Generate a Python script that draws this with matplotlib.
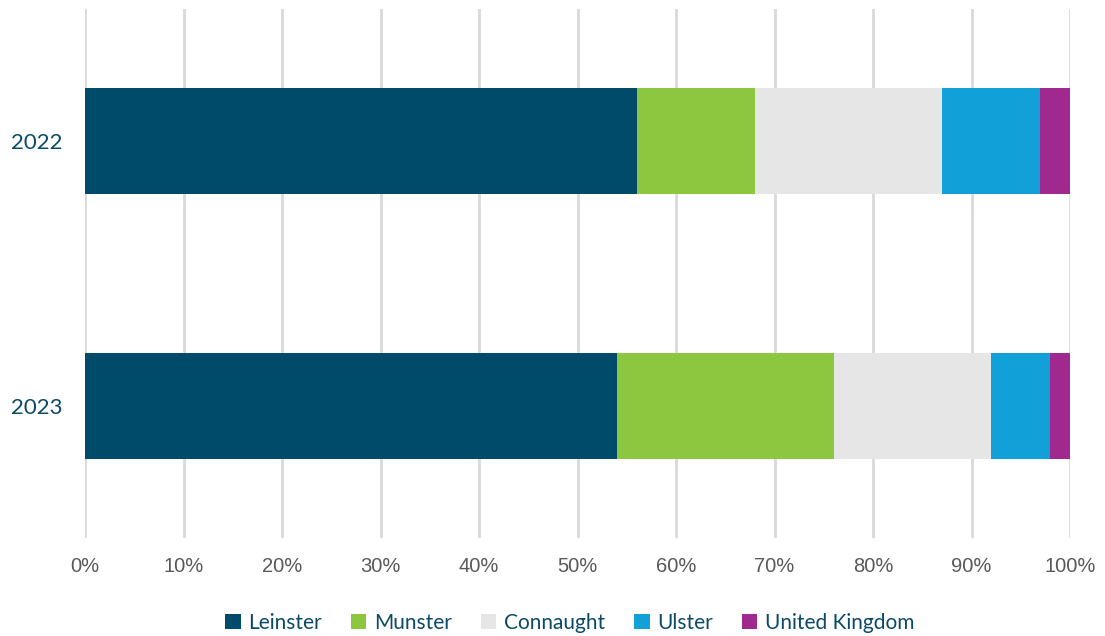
import matplotlib.pyplot as plt
import numpy as np

# share of total by region, per year
years = ['2022', '2023']
regions = ['Leinster', 'Munster', 'Connaught', 'Ulster', 'United Kingdom']
leinster = [56, 54]
munster = [12, 22]
connaught = [19, 16]
ulster = [10, 6]
united_kingdom = [3, 2]
tick_labels = ['0%', '10%', '20%', '30%', '40%', '50%', '60%', '70%', '80%', '90%', '100%']

colors = ['#004A6A', '#8DC63F', '#E6E6E6', '#11A0D7', '#A0298F']
teal = '#0B4A66'

fig = plt.figure(figsize=(11.05, 6.36), dpi=100)
ax = fig.add_axes([85 / 1105, 98 / 636, 985 / 1105, 529 / 636])

y = np.arange(len(years))
left = np.zeros(len(years))
for name, vals, c in zip(regions, [leinster, munster, connaught, ulster, united_kingdom], colors):
    ax.barh(y, vals, left=left, height=0.4, color=c, label=name, zorder=3)
    left += np.array(vals)

ax.set_xlim(0, 100)
ax.set_ylim(1.5, -0.5)
ax.set_xticks(np.arange(0, 101, 10))
ax.set_xticklabels(tick_labels, family='Liberation Sans', fontsize=14.5, color='#595959')
ax.set_yticks(y)
ax.set_yticklabels(years, family='Lato', fontsize=16, color=teal)
ax.tick_params(length=0)
ax.tick_params(axis='x', pad=14)
ax.tick_params(axis='y', pad=16)
ax.grid(axis='x', color='#D9D9D9', linewidth=2, zorder=0)
for s in ax.spines.values():
    s.set_visible(False)

leg = ax.legend(loc='lower center', bbox_to_anchor=(0.492, -0.215), ncol=5, frameon=False,
                prop={'family': 'Lato', 'size': 15}, handlelength=0.75, handleheight=0.75,
                handletextpad=0.35, columnspacing=1.4)
for t in leg.get_texts():
    t.set_color(teal)

fig.savefig('out.png', dpi=100)
